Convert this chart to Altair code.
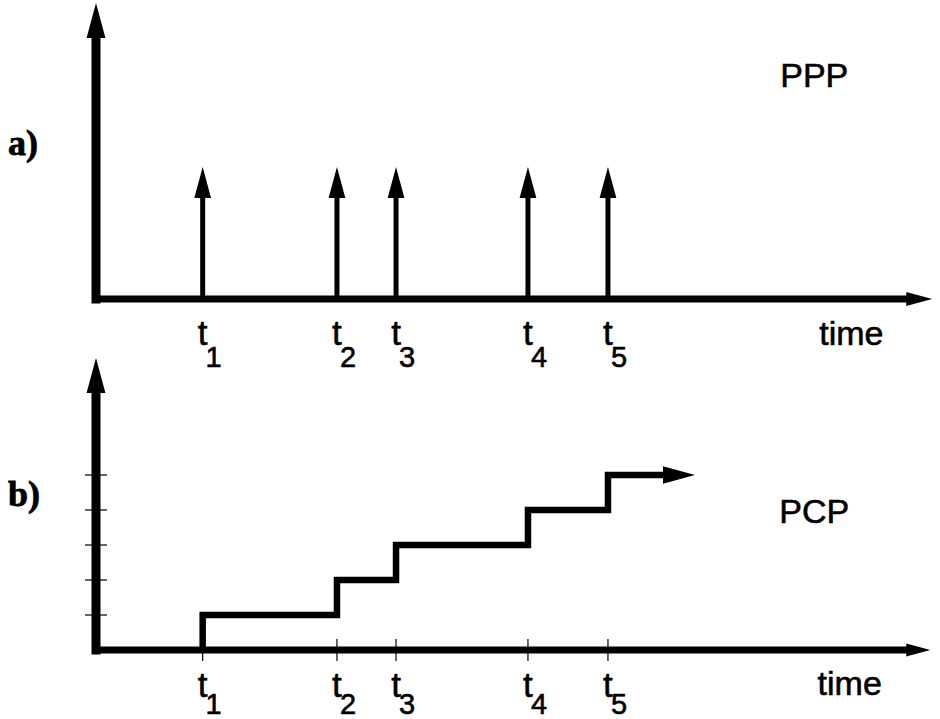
import altair as alt
import pandas as pd

# ---------------- data ----------------
event_times = [12.64, 28.55, 35.55, 51.18, 60.66]      # t1..t5 on the time axis
event_labels = ["1", "2", "3", "4", "5"]
ppp_heights = [1, 1, 1, 1, 1]                             # point process spikes
pcp_counts = [1, 2, 3, 4, 5]                              # counting process levels
pcp_end = 67.18                                           # end of last step
time_axis_end = 96.0
ppp_axis_top = 2.584
pcp_axis_top = 7.343

# ---------------- layout constants ----------------
W = 940
HA, HB = 350, 369
X_DOM = [-11.374, 100]
YA_DOM = [-0.505, 2.960]
YB_DOM = [-1.971, 8.571]

UP = "M-0.27,0 L0,-1 L0.27,0 Z"
RIGHT = "M0,-0.27 L1,0 L0,0.27 Z"
SANS = "Liberation Sans"
SERIF = "Liberation Serif"


def X(field="x"):
    return alt.X(f"{field}:Q", scale=alt.Scale(domain=X_DOM, nice=False, zero=False), axis=None)


def Y(dom, field="y"):
    return alt.Y(f"{field}:Q", scale=alt.Scale(domain=dom, nice=False, zero=False), axis=None)


def hline(df, dom, w):
    return alt.Chart(df).mark_rule(color="black", strokeWidth=w, strokeCap="square").encode(
        x=X(), x2="x2:Q", y=Y(dom))


def vline(df, dom, w, cap="square"):
    return alt.Chart(df).mark_rule(color="black", strokeWidth=w, strokeCap=cap).encode(
        x=X(), y=Y(dom), y2="y2:Q")


def arrow(df, dom, shape, r):
    return alt.Chart(df).mark_point(shape=shape, size=(2 * r) ** 2, filled=True, color="black",
                                    opacity=1, strokeWidth=0).encode(x=X(), y=Y(dom))


def text(df, dom, size, font=SANS, align="center", dx=0, weight="normal", sw=0.6):
    return alt.Chart(df).mark_text(font=font, fontSize=size, align=align, baseline="alphabetic",
                                   dx=dx, fontWeight=weight, color="black", stroke="black",
                                   strokeWidth=sw).encode(
        x=X(), y=Y(dom), text="label:N")


# ---------------- panel a: PPP ----------------
spikes = pd.DataFrame({"x": event_times, "y": [0] * 5, "y2": ppp_heights})
spike_tips = pd.DataFrame({"x": event_times, "y": ppp_heights})
t_a = pd.DataFrame({"x": event_times, "y": [-0.455] * 5, "label": ["t"] * 5})
n_a = pd.DataFrame({"x": event_times, "y": [-0.673] * 5, "label": event_labels})

panel_a = alt.layer(
    hline(pd.DataFrame({"x": [0], "x2": [time_axis_end], "y": [0]}), YA_DOM, 7),
    vline(pd.DataFrame({"x": [0], "y": [0], "y2": [ppp_axis_top]}), YA_DOM, 9),
    vline(spikes, YA_DOM, 5, cap="butt"),
    arrow(spike_tips, YA_DOM, UP, 31),
    arrow(pd.DataFrame({"x": [0], "y": [ppp_axis_top]}), YA_DOM, UP, 35),
    arrow(pd.DataFrame({"x": [time_axis_end], "y": [0]}), YA_DOM, RIGHT, 26),
    text(t_a, YA_DOM, 35),
    text(n_a, YA_DOM, 29, dx=11),
    text(pd.DataFrame({"x": [89.5], "y": [-0.455], "label": ["time"]}), YA_DOM, 34),
    text(pd.DataFrame({"x": [85.1], "y": [2.099], "label": ["PPP"]}), YA_DOM, 34),
    text(pd.DataFrame({"x": [-10.43], "y": [1.426], "label": ["a)"]}), YA_DOM, 36,
         font=SERIF, align="left", weight="bold", sw=0.8),
).properties(width=W, height=HA)

# ---------------- panel b: PCP ----------------
step_x = [event_times[0]] + event_times + [pcp_end]
step_y = [0] + pcp_counts + [pcp_counts[-1]]
steps = pd.DataFrame({"x": step_x, "y": step_y, "order": list(range(len(step_x)))})
yticks = pd.DataFrame({"x": [0] * 5, "y": pcp_counts})
xticks = pd.DataFrame({"x": event_times, "y": [0] * 5})
t_b = pd.DataFrame({"x": event_times, "y": [-1.343] * 5, "label": ["t"] * 5})
n_b = pd.DataFrame({"x": event_times, "y": [-1.84] * 5, "label": event_labels})

panel_b = alt.layer(
    alt.Chart(yticks).mark_tick(orient="horizontal", size=22, thickness=1.2, color="black",
                                opacity=1).encode(x=X(), y=Y(YB_DOM)),
    alt.Chart(xticks).mark_tick(orient="vertical", size=22, thickness=1.2, color="black",
                                opacity=1).encode(x=X(), y=Y(YB_DOM)),
    hline(pd.DataFrame({"x": [0], "x2": [time_axis_end], "y": [0]}), YB_DOM, 7),
    vline(pd.DataFrame({"x": [0], "y": [0], "y2": [pcp_axis_top]}), YB_DOM, 9),
    alt.Chart(steps).mark_line(color="black", strokeWidth=6.5, interpolate="step-after",
                               strokeJoin="miter").encode(x=X(), y=Y(YB_DOM), order="order:Q"),
    arrow(pd.DataFrame({"x": [pcp_end], "y": [pcp_counts[-1]]}), YB_DOM, RIGHT, 32),
    arrow(pd.DataFrame({"x": [0], "y": [pcp_axis_top]}), YB_DOM, UP, 35),
    arrow(pd.DataFrame({"x": [time_axis_end], "y": [0]}), YB_DOM, RIGHT, 24),
    text(t_b, YB_DOM, 35),
    text(n_b, YB_DOM, 29, dx=11),
    text(pd.DataFrame({"x": [89.3], "y": [-1.286], "label": ["time"]}), YB_DOM, 34),
    text(pd.DataFrame({"x": [85.1], "y": [3.629], "label": ["PCP"]}), YB_DOM, 34),
    text(pd.DataFrame({"x": [-10.43], "y": [4.114], "label": ["b)"]}), YB_DOM, 36,
         font=SERIF, align="left", weight="bold", sw=0.8),
).properties(width=W, height=HB)

chart = alt.vconcat(panel_a, panel_b, spacing=0, bounds="flush").properties(
    padding=0, background="white"
).configure_view(strokeWidth=0)

chart.save("out.html", embed_options={"renderer": "svg", "actions": False})
